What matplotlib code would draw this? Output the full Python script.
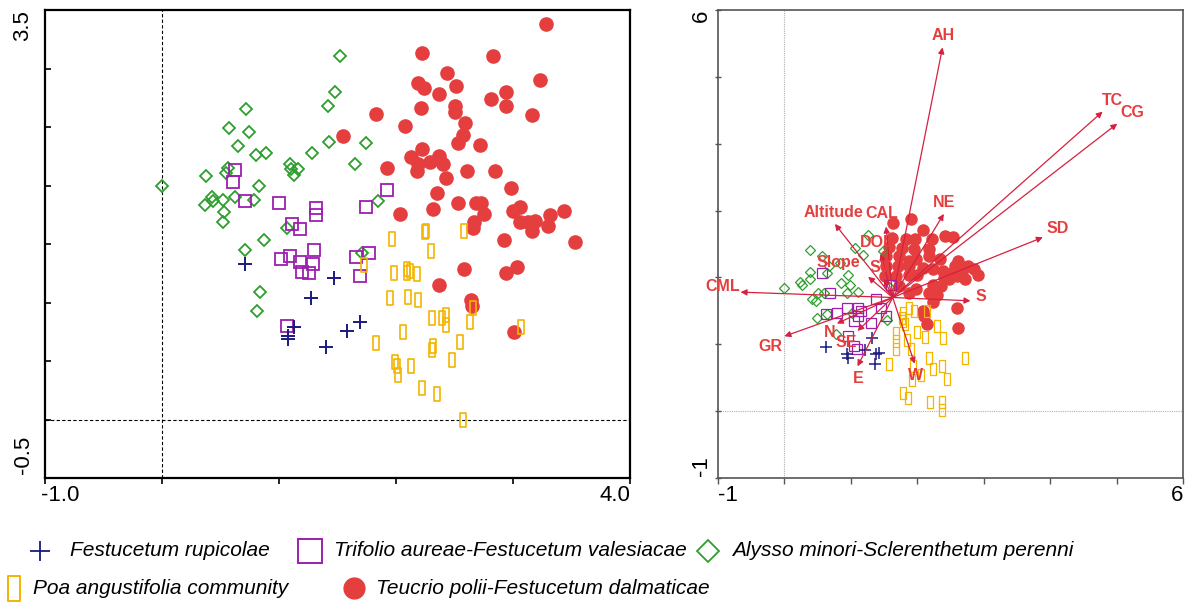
import matplotlib
matplotlib.use("Agg")
import matplotlib.pyplot as plt
from matplotlib.lines import Line2D
from matplotlib.path import Path

# ---------------- data: left panel (ordination of releves) ----------------
L_teu_x = [3.28,2.22,2.83,2.44,2.19,2.24,2.51,3.23,2.37,2.94,2.81,2.94,2.21,2.50,2.50,1.83,3.16,2.08,2.59,2.57,2.53,1.55,2.72,2.22,2.13,2.37,2.29,2.19,2.40,2.18,2.43,1.92,2.61,2.85,2.98,2.35,2.53,2.32,2.03,2.68,2.73,2.75,3.00,3.06,2.67,2.66,3.06,3.13,3.19,3.16,3.32,3.30,3.44,2.92,3.53,2.58,3.03,2.94,2.37,2.64,2.65,3.01]
L_teu_y = [3.38,3.13,3.11,2.96,2.88,2.83,2.85,2.90,2.78,2.80,2.74,2.68,2.66,2.68,2.63,2.61,2.60,2.51,2.53,2.43,2.36,2.42,2.35,2.31,2.24,2.25,2.20,2.18,2.18,2.12,2.06,2.15,2.12,2.12,1.98,1.94,1.85,1.80,1.76,1.85,1.85,1.76,1.78,1.82,1.69,1.64,1.69,1.69,1.70,1.61,1.75,1.65,1.78,1.53,1.52,1.29,1.30,1.25,1.15,1.02,0.97,0.75]
L_aly_x = [0.00,1.52,1.48,1.42,0.72,0.57,0.74,0.65,0.80,0.89,1.28,1.43,1.74,1.65,0.56,0.55,0.38,1.09,1.10,1.16,1.13,0.83,0.43,0.44,0.52,0.62,0.37,0.79,0.53,0.52,1.07,0.87,0.71,1.85,1.71,0.84,0.81]
L_aly_y = [2.00,3.11,2.80,2.68,2.65,2.49,2.46,2.34,2.26,2.28,2.28,2.37,2.36,2.18,2.15,2.11,2.08,2.18,2.14,2.14,2.09,2.00,1.90,1.87,1.88,1.90,1.83,1.88,1.77,1.69,1.64,1.53,1.45,1.87,1.42,1.09,0.93]
L_tri_x = [0.62,0.61,0.71,1.00,1.32,1.32,1.74,1.92,1.11,1.18,1.30,1.09,1.02,1.18,1.29,1.20,1.26,1.66,1.77,1.69,1.07]
L_tri_y = [2.13,2.03,1.87,1.85,1.81,1.75,1.82,1.96,1.67,1.63,1.45,1.40,1.37,1.35,1.33,1.26,1.25,1.39,1.42,1.23,0.80]
L_rup_x = [0.71,1.47,1.27,1.13,1.08,1.08,1.58,1.69,1.40]
L_rup_y = [1.33,1.21,1.04,0.79,0.71,0.69,0.76,0.83,0.62]
L_poa_x = [1.97,2.25,2.26,2.58,2.30,1.73,1.98,2.09,2.09,2.12,2.18,1.95,2.10,2.19,2.31,2.39,2.43,2.43,2.63,2.66,3.07,2.06,1.83,2.32,2.31,2.55,1.99,2.01,2.13,2.48,2.02,2.22,2.35,2.57]
L_poa_y = [1.54,1.60,1.61,1.61,1.44,1.32,1.25,1.29,1.25,1.27,1.24,1.04,1.05,1.02,0.87,0.87,0.89,0.81,0.83,0.95,0.79,0.75,0.65,0.63,0.59,0.66,0.49,0.46,0.46,0.51,0.38,0.27,0.22,0.00]

# ---------------- data: right panel (biplot) ----------------
R_teu_x = [1.63,1.90,2.09,1.62,1.83,1.97,2.22,2.41,2.54,1.58,1.77,1.95,2.18,1.53,1.72,1.88,1.98,2.18,2.34,2.62,2.77,2.85,1.53,1.71,1.88,2.08,2.23,2.38,2.53,2.68,2.72,2.92,1.51,1.68,1.88,2.00,2.40,2.60,2.48,2.35,2.23,1.73,1.88,2.18,2.30,2.23,2.08,2.10,2.15,2.60,2.62,1.98,2.57]
R_teu_y = [2.82,2.87,2.71,2.59,2.57,2.57,2.57,2.62,2.60,2.46,2.44,2.43,2.43,2.32,2.32,2.24,2.27,2.32,2.28,2.24,2.17,2.13,2.17,2.17,2.17,2.14,2.12,2.09,2.07,2.09,1.97,2.03,2.02,2.02,2.04,2.04,1.99,2.02,1.97,1.87,1.89,1.87,1.77,1.77,1.73,1.63,1.50,1.42,1.31,1.55,1.25,1.82,2.17]
R_aly_x = [-0.01,0.38,0.56,0.38,0.24,0.27,0.38,0.50,0.42,0.48,0.59,0.49,0.64,0.85,0.95,0.99,1.11,0.94,1.01,1.26,1.06,1.18,1.48,0.78,1.57,1.55,0.84,0.67,0.64]
R_aly_y = [1.84,2.41,2.32,2.08,1.93,1.89,1.97,1.77,1.67,1.65,1.77,1.40,1.45,1.91,2.04,1.88,1.78,1.76,1.47,2.64,2.44,2.34,2.39,1.16,1.86,1.37,2.22,2.17,2.07]
R_tri_x = [0.57,0.69,0.62,0.79,0.94,1.11,1.16,1.04,1.31,1.38,1.46,1.61,0.96,1.04,1.09,1.53,1.11]
R_tri_y = [2.06,1.77,1.45,1.47,1.55,1.55,1.50,1.35,1.32,1.68,1.55,1.89,1.12,0.98,0.93,1.42,1.42]
R_rup_x = [0.63,0.94,0.95,1.21,1.32,1.38,1.42,1.37]
R_rup_y = [0.96,0.85,0.79,0.91,1.10,0.85,0.87,0.70]
R_poa_x = [1.88,1.95,1.78,2.15,1.77,1.78,1.81,2.29,2.00,2.12,2.39,1.68,1.85,1.68,1.90,1.58,1.93,2.05,2.18,2.23,2.37,2.45,2.72,1.78,1.86,2.19,2.37,2.37,1.92,1.68]
R_poa_y = [1.55,1.50,1.47,1.50,1.40,1.35,1.30,1.28,1.18,1.11,1.09,1.05,1.07,0.93,0.93,0.70,0.68,0.54,0.79,0.63,0.68,0.48,0.80,0.27,0.19,0.14,0.14,0.01,0.47,1.17]

# environmental vectors
arrow_origin = (1.63, 1.70)
vec_names = ["AH", "TC", "CG", "SD", "NE", "CAL", "Altitude", "DOL", "Slope", "SV",
             "S", "CML", "GR", "N", "SE", "E", "W"]
vec_x = [2.38, 4.79, 5.01, 3.89, 2.40, 1.53, 0.76, 1.45, 1.26, 1.50,
         2.80, -0.66, 0.00, 0.79, 1.10, 1.10, 1.96]
vec_y = [5.44, 4.48, 4.30, 2.60, 2.95, 2.76, 2.80, 2.35, 2.01, 1.98,
         1.65, 1.78, 1.12, 1.31, 1.20, 0.67, 0.71]
# label offsets (pixels) relative to arrow tip
label_off = {"AH": (1, 12), "TC": (10, 11), "CG": (15, 11), "SD": (15, 9), "NE": (0, 11),
             "CAL": (-4, 13), "Altitude": (-1, 11), "DOL": (-4, 12), "Slope": (-30, 14),
             "SV": (-4, 11), "S": (10, 4), "CML": (-18, 6), "GR": (-14, -10), "N": (-7, -9),
             "SE": (-11, -12), "E": (1, -12), "W": (1, -12)}

group_names = ["Festucetum rupicolae", "Trifolio aureae-Festucetum valesiacae",
               "Alysso minori-Sclerenthetum perenni", "Poa angustifolia community",
               "Teucrio polii-Festucetum dalmaticae"]

# ---------------- styles ----------------
C_RED = "#E53E3E"
C_ARW = "#D6203F"
C_GRN = "#2E9E2E"
C_PUR = "#9C1FB0"
C_NAV = "#1A1A80"
C_YEL = "#F4B400"
TALL = Path([(-0.25, -0.5), (0.25, -0.5), (0.25, 0.5), (-0.25, 0.5), (-0.25, -0.5)],
            [1, 2, 2, 2, 79])

W, H = 1203, 603
fig = plt.figure(figsize=(W / 100, H / 100), dpi=100)
TXT = ["Liberation Sans", "DejaVu Sans"]


def ax_rect(x0, y0, x1, y1):
    return [x0 / W, 1 - y1 / H, (x1 - x0) / W, (y1 - y0) / H]


# ---------------- left panel ----------------
axL = fig.add_axes(ax_rect(45, 10, 630, 478))
axL.set_xlim(-1.0, 4.0)
axL.set_ylim(-0.5, 3.5)
axL.axvline(0, color="black", lw=0.8, ls=(0, (3, 2)), zorder=1)
axL.axhline(0, color="black", lw=0.8, ls=(0, (3, 2)), zorder=1)
axL.plot(L_teu_x, L_teu_y, "o", ms=9.5, color=C_RED, mec=C_RED, zorder=3)
axL.plot(L_aly_x, L_aly_y, "D", ms=6, mfc="none", mec=C_GRN, mew=1.3, zorder=4)
axL.plot(L_tri_x, L_tri_y, "s", ms=9, mfc="none", mec=C_PUR, mew=1.3, zorder=4)
axL.plot(L_poa_x, L_poa_y, marker=TALL, ls="none", ms=10, mfc="none", mec=C_YEL, mew=1.2, zorder=4)
axL.plot(L_rup_x, L_rup_y, "+", ms=10, mec=C_NAV, mew=1.4, zorder=5)
for s in axL.spines.values():
    s.set_linewidth(1.6)
    s.set_color("black")
axL.set_xticks(range(-1, 5))
axL.set_yticks([-0.5 + 0.5 * i for i in range(9)])
axL.tick_params(axis="x", direction="out", length=4, width=1.2, labelbottom=False)
axL.tick_params(axis="y", direction="in", length=4, width=1.2, labelleft=False)
fs_tick = 16
axL.annotate("-1.0", xy=(0, 0), xycoords="axes fraction", xytext=(-4, -7), textcoords="offset pixels",
             ha="left", va="top", fontsize=fs_tick, family=TXT)
axL.annotate("4.0", xy=(1, 0), xycoords="axes fraction", xytext=(0, -7), textcoords="offset pixels",
             ha="right", va="top", fontsize=fs_tick, family=TXT)
axL.annotate("3.5", xy=(0, 1), xycoords="axes fraction", xytext=(-22, 0), textcoords="offset pixels",
             ha="center", va="top", rotation=90, fontsize=fs_tick, family=TXT)
axL.annotate("-0.5", xy=(0, 0), xycoords="axes fraction", xytext=(-22, 4), textcoords="offset pixels",
             ha="center", va="bottom", rotation=90, fontsize=fs_tick, family=TXT)

# ---------------- right panel ----------------
axR = fig.add_axes(ax_rect(718, 10, 1183, 478))
axR.set_xlim(-1, 6)
axR.set_ylim(-1, 6)
axR.axvline(0, color="#B0B0B0", lw=0.8, ls=(0, (1, 1)), zorder=1)
axR.axhline(0, color="#B0B0B0", lw=0.8, ls=(0, (1, 1)), zorder=1)
axR.plot(R_teu_x, R_teu_y, "o", ms=8, color=C_RED, mec=C_RED, zorder=3)
axR.plot(R_aly_x, R_aly_y, "D", ms=4.6, mfc="none", mec=C_GRN, mew=0.9, zorder=4)
axR.plot(R_tri_x, R_tri_y, "s", ms=7, mfc="none", mec=C_PUR, mew=0.9, zorder=4)
axR.plot(R_poa_x, R_poa_y, marker=TALL, ls="none", ms=8, mfc="none", mec=C_YEL, mew=0.9, zorder=4)
axR.plot(R_rup_x, R_rup_y, "+", ms=8, mec=C_NAV, mew=1.1, zorder=5)
for name, tx, ty in zip(vec_names, vec_x, vec_y):
    axR.annotate("", xy=(tx, ty), xytext=arrow_origin,
                 arrowprops=dict(arrowstyle="-|>", color=C_ARW, lw=0.9, mutation_scale=9,
                                 shrinkA=0, shrinkB=0), zorder=6)
    dx, dy = label_off[name]
    axR.annotate(name, xy=(tx, ty), xytext=(dx, dy), textcoords="offset pixels",
                 ha="center", va="center", fontsize=11.5, fontweight="bold", color=C_RED,
                 family=TXT, zorder=7)
for s in axR.spines.values():
    s.set_linewidth(1.2)
    s.set_color("#555555")
axR.set_xticks(range(-1, 7))
axR.set_yticks(range(-1, 7))
axR.tick_params(axis="x", direction="out", length=4, width=1, color="#555555", labelbottom=False)
axR.tick_params(axis="y", direction="inout", length=5, width=1, color="#555555", labelleft=False)
axR.annotate("-1", xy=(0, 0), xycoords="axes fraction", xytext=(0, -7), textcoords="offset pixels",
             ha="left", va="top", fontsize=fs_tick, family=TXT)
axR.annotate("6", xy=(1, 0), xycoords="axes fraction", xytext=(0, -7), textcoords="offset pixels",
             ha="right", va="top", fontsize=fs_tick, family=TXT)
axR.annotate("6", xy=(0, 1), xycoords="axes fraction", xytext=(-17, 0), textcoords="offset pixels",
             ha="center", va="top", rotation=90, fontsize=fs_tick, family=TXT)
axR.annotate("-1", xy=(0, 0), xycoords="axes fraction", xytext=(-17, 2), textcoords="offset pixels",
             ha="center", va="bottom", rotation=90, fontsize=fs_tick, family=TXT)

# ---------------- legend (two rows) ----------------
LEG = ["Liberation Sans", "DejaVu Sans"]
handles = [
    dict(marker="+", ms=15, mec=C_NAV, mfc="none", mew=1.3),
    dict(marker="s", ms=17, mec=C_PUR, mfc="none", mew=1.4),
    dict(marker="D", ms=11, mec=C_GRN, mfc="none", mew=1.3),
    dict(marker=TALL, ms=18, mec=C_YEL, mfc="none", mew=1.4),
    dict(marker="o", ms=15, mec=C_RED, mfc=C_RED, mew=1),
]
# (marker x, text x, y) in pixels
slots = [(40, 70, 551), (310, 334, 551), (708, 732, 551), (14, 33, 588), (354, 376, 588)]
for name, hd, (mx, tx, yy) in zip(group_names, handles, slots):
    fig.add_artist(Line2D([mx / W], [1 - yy / H], transform=fig.transFigure, ls="none", **hd))
    fig.text(tx / W, 1 - yy / H, name, ha="left", va="center", fontsize=15,
             style="italic", family=LEG)

fig.savefig("out.png", dpi=100)
